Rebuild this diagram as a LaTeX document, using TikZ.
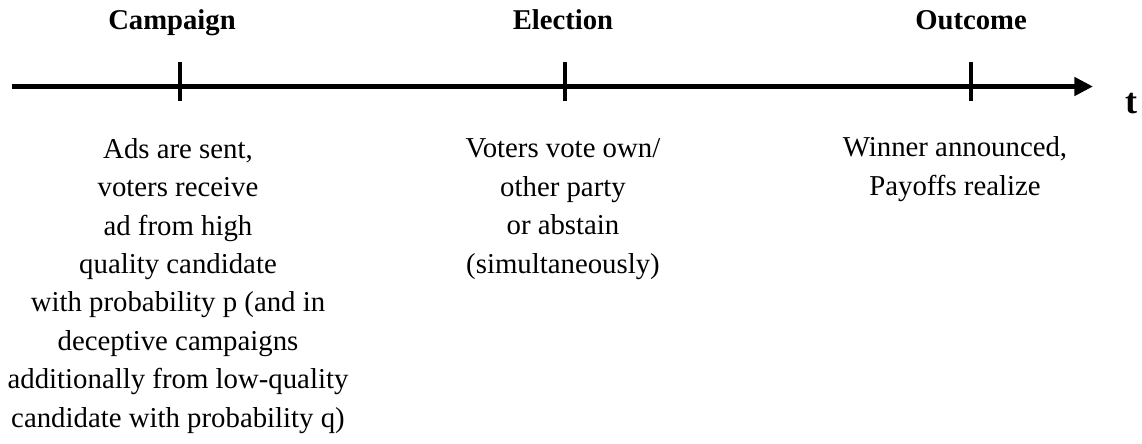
\documentclass[tikz,border=0pt]{standalone}
\usepackage{fontspec}
\setmainfont{Liberation Serif}
\usetikzlibrary{arrows.meta}
\begin{document}
\begin{tikzpicture}[x=0.75pt,y=-0.75pt,
  heading/.style={font=\fontsize{21.5}{26}\selectfont\bfseries,anchor=base,inner sep=0pt},
  body/.style={font=\fontsize{21.6}{28.8}\selectfont,align=center,anchor=base,inner sep=0pt},
  axisline/.style={line width=3.75pt,-{Triangle[length=14pt,width=13.5pt]}},
  tickmark/.style={line width=3pt}]
\useasboundingbox (0,0) rectangle (1142,443);
\coordinate (start) at (12,86.5);
\coordinate (end) at (1093,86.5);
\draw[axisline] (start) -- (end);
\coordinate (t1a) at (180,62); \coordinate (t1b) at (180,101);
\coordinate (t2a) at (565,62); \coordinate (t2b) at (565,101);
\coordinate (t3a) at (971,62); \coordinate (t3b) at (971,101);
\draw[tickmark] (t1a) -- (t1b);
\draw[tickmark] (t2a) -- (t2b);
\draw[tickmark] (t3a) -- (t3b);
\node[heading] (h1) at (172,29) {Campaign};
\node[heading] (h2) at (563,29) {Election};
\node[heading] (h3) at (971,29) {Outcome};
\node[heading,font=\fontsize{27}{30}\selectfont\bfseries] (tl) at (1131,113) {t};
\node[body] (b1) at (178,427) {Ads are sent,\\voters receive\\ad from high\\quality candidate\\with probability p (and in\\deceptive campaigns\\additionally from low-quality\\candidate with probability q)};
\node[body] (b2) at (563,273) {Voters vote own/\\other party\\or abstain\\(simultaneously)};
\node[body] (b3) at (955,195) {Winner announced,\\Payoffs realize};
\end{tikzpicture}
\end{document}
